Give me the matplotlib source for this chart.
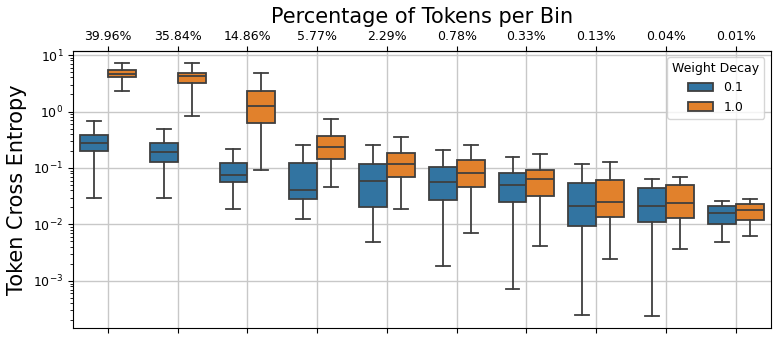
import matplotlib
matplotlib.use("Agg")
import matplotlib.pyplot as plt
from matplotlib.patches import Patch
import numpy as np

bins = list(range(10))
pct_labels = ["39.96%", "35.84%", "14.86%", "5.77%", "2.29%",
              "0.78%", "0.33%", "0.13%", "0.04%", "0.01%"]
hue_labels = ["0.1", "1.0"]

# Weight decay 0.1 (blue)
wd01_whislo = [0.030, 0.029, 0.0188, 0.0127, 0.00497, 0.00182, 0.000713, 0.00025, 0.000243, 0.00484]
wd01_q1     = [0.20, 0.13, 0.056, 0.028, 0.0204, 0.0275, 0.025, 0.0093, 0.0111, 0.0103]
wd01_med    = [0.28, 0.19, 0.075, 0.040, 0.060, 0.0565, 0.049, 0.021, 0.0212, 0.0158]
wd01_q3     = [0.39, 0.28, 0.121, 0.121, 0.118, 0.105, 0.080, 0.0536, 0.0448, 0.021]
wd01_whishi = [0.68, 0.50, 0.217, 0.255, 0.255, 0.211, 0.155, 0.118, 0.0647, 0.0264]

# Weight decay 1.0 (orange)
wd10_whislo = [2.3, 0.84, 0.091, 0.0455, 0.0186, 0.00698, 0.0041, 0.00248, 0.00368, 0.00634]
wd10_q1     = [4.1, 3.2, 0.63, 0.146, 0.068, 0.0455, 0.032, 0.0134, 0.0132, 0.0122]
wd10_med    = [4.6, 4.2, 1.24, 0.232, 0.118, 0.0805, 0.063, 0.0253, 0.0237, 0.0178]
wd10_q3     = [5.4, 4.8, 2.33, 0.37, 0.184, 0.137, 0.093, 0.061, 0.0494, 0.0233]
wd10_whishi = [7.1, 7.1, 4.86, 0.73, 0.358, 0.255, 0.177, 0.129, 0.0684, 0.0283]

colors = ["#3274a1", "#e1812c"]
line_gray = "#3f3f3f"

fig = plt.figure(figsize=(7.8, 3.42), dpi=100)
ax = fig.add_axes([0.0936, 0.041, 0.8944, 0.810])

series = [
    (wd01_whislo, wd01_q1, wd01_med, wd01_q3, wd01_whishi),
    (wd10_whislo, wd10_q1, wd10_med, wd10_q3, wd10_whishi),
]
width = 0.4
offsets = [-0.2, 0.2]
for h, (lo, q1, med, q3, hi) in enumerate(series):
    stats = []
    for i in bins:
        stats.append(dict(whislo=lo[i], q1=q1[i], med=med[i], q3=q3[i],
                          whishi=hi[i], fliers=[]))
    pos = [b + offsets[h] for b in bins]
    ax.bxp(stats, positions=pos, widths=width, patch_artist=True,
           showfliers=False, manage_ticks=False,
           boxprops=dict(facecolor=colors[h], edgecolor=line_gray, linewidth=1.3),
           medianprops=dict(color=line_gray, linewidth=1.3),
           whiskerprops=dict(color=line_gray, linewidth=1.3),
           capprops=dict(color=line_gray, linewidth=1.3),
           capwidths=width / 2, zorder=3)

ax.set_yscale("log")
ax.set_ylim(1.47e-4, 11.8)
ax.set_xlim(-0.5, 9.5)
ax.set_xticks(bins)
ax.set_xticklabels([])
ax.grid(True, which="major", color="#c8c8c8", linewidth=1.0, zorder=0)
ax.set_axisbelow(True)
ax.tick_params(axis="both", labelsize=9)
ax.set_ylabel("Token Cross Entropy", fontsize=15)

sec = ax.secondary_xaxis("top")
sec.set_xticks(bins)
sec.set_xticklabels(pct_labels, fontsize=9)
sec.tick_params(axis="x", pad=2)

ax.set_title("Percentage of Tokens per Bin", fontsize=15, pad=20)

handles = [Patch(facecolor=colors[i], edgecolor=line_gray, linewidth=1.3, label=hue_labels[i])
           for i in range(2)]
leg = ax.legend(handles=handles, title="Weight Decay", loc="upper right",
                fontsize=9, title_fontsize=9)

fig.savefig("out.png", dpi=100)
